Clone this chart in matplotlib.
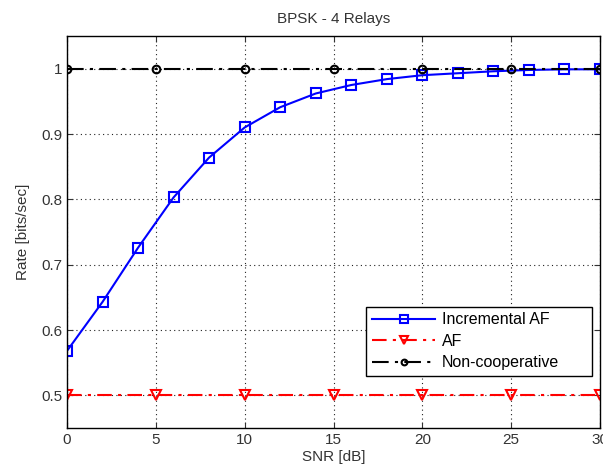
import numpy as np
import matplotlib.pyplot as plt

plt.rcParams['font.family'] = ['Liberation Sans', 'DejaVu Sans']

# data
snr_inc = [0, 2, 4, 6, 8, 10, 12, 14, 16, 18, 20, 22, 24, 26, 28, 30]
rate_inc = [0.568, 0.643, 0.726, 0.803, 0.864, 0.910, 0.941, 0.962,
            0.975, 0.984, 0.990, 0.993, 0.996, 0.998, 0.999, 0.999]
snr_af = [0, 5, 10, 15, 20, 25, 30]
rate_af = [0.5, 0.5, 0.5, 0.5, 0.5, 0.5, 0.5]
snr_nc = [0, 5, 10, 15, 20, 25, 30]
rate_nc = [1.0, 1.0, 1.0, 1.0, 1.0, 1.0, 1.0]

fig = plt.figure(figsize=(6.03, 4.70), dpi=100)
ax = fig.add_axes([67/603, 42/470, 533/603, 392/470])

ax.plot(snr_inc, rate_inc, '-s', color='#0000ff', lw=1.5, ms=7.5,
        mfc='none', mew=1.5, label='Incremental AF')
ax.plot(snr_af, rate_af, '--v', color='#ff0000', lw=1.5, ms=7.5,
        mfc='none', mew=1.5, dashes=(7, 3, 1.5, 3), label='AF')
ax.plot(snr_nc, rate_nc, '-.o', color='black', lw=1.5, ms=5.5,
        mfc='none', mew=1.5, dashes=(8, 3, 1.5, 3), label='Non-cooperative')

ax.set_xlim(0, 30)
ax.set_ylim(0.45, 1.05)
ax.set_xticks([0, 5, 10, 15, 20, 25, 30])
ax.set_yticks([0.5, 0.6, 0.7, 0.8, 0.9, 1.0])
ax.set_yticklabels(['0.5', '0.6', '0.7', '0.8', '0.9', '1'])
ax.grid(True, ls=(0, (1, 3)), color='#222222', lw=0.8)
ax.tick_params(direction='in', labelsize=11, colors='#333333', length=4,
               top=True, right=True)
for s in ax.spines.values():
    s.set_linewidth(1.0)

ax.set_xlabel('SNR [dB]', fontsize=11, color='#333333', labelpad=2)
ax.set_ylabel('Rate [bits/sec]', fontsize=11, color='#333333', labelpad=8)
ax.set_title('BPSK - 4 Relays', fontsize=11, color='#333333', pad=9)

leg = ax.legend(loc='lower left', bbox_to_anchor=(0.561, 0.133, 0.424, 0.181),
                mode='expand', borderaxespad=0,
                fontsize=11.5, fancybox=False, framealpha=1,
                edgecolor='black', borderpad=0.35, labelspacing=0.4,
                handlelength=4.0, handletextpad=0.4, markerscale=0.75)
leg.get_frame().set_linewidth(1.0)

fig.savefig('out.png', dpi=100)
